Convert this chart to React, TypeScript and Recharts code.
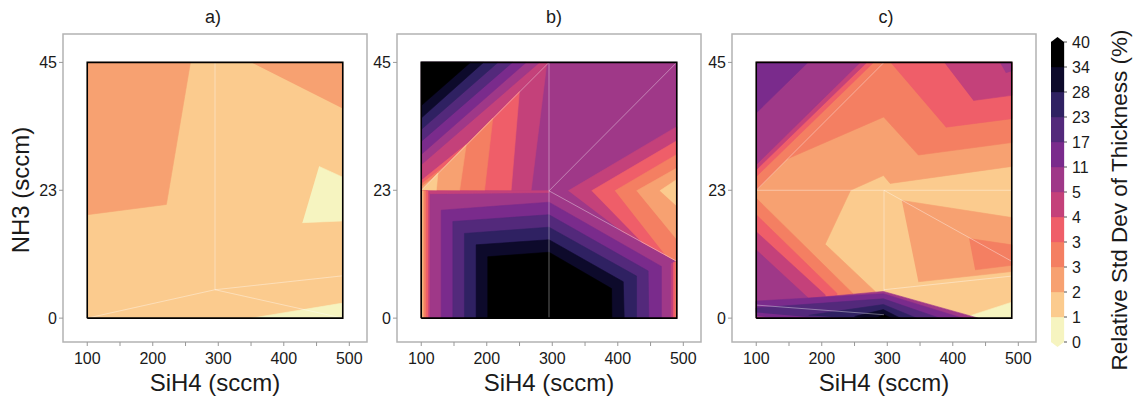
import React from "react"
import {
  ScatterChart,
  Scatter,
  XAxis,
  YAxis,
  ReferenceArea,
  BarChart,
  Bar,
} from "recharts"

type Pair = [number, number]
type Poly = { band: number; pts: Pair[] }

// contour band colours, lowest band first
const BAND_COLORS = [
  "#f6f4c0",
  "#fbcb8e",
  "#f7a171",
  "#f47f62",
  "#ef5e69",
  "#c4417a",
  "#9f3888",
  "#7a2b8c",
  "#53297b",
  "#2f2162",
  "#0d0a2b",
  "#000000",
]
const LEVEL_LABELS = ["0", "1", "2", "3", "3", "4", "5", "11", "17", "23", "28", "34", "40"]

const X_TICKS = [100, 150, 200, 250, 300, 350, 400, 450, 500]
const Y_TICKS = [0, 22.5, 45]
const X_DOMAIN: [number, number] = [63, 527]
const Y_DOMAIN: [number, number] = [-4.2, 50]
const BOX: Pair[] = [[100, 0], [100, 45], [490, 45], [490, 0]]

// a) regions (drawn over band 1)
const aPolys: Poly[] = [
  { band: 2, pts: [[100, 45], [257.5, 45], [220.8, 20.0], [100, 18.2]] },
  { band: 2, pts: [[350.5, 45], [490, 45], [490, 36.9]] },
  { band: 0, pts: [[453.8, 26.7], [490, 24.8], [490, 17.1], [428.4, 16.8]] },
  { band: 0, pts: [[350.5, 0], [490, 2.65], [490, 0]] },
]
const aSeams: Pair[][] = [
  [[295, 45], [295, 5]],
  [[100, 0], [295, 5]],
  [[295, 5], [490, 7.45]],
  [[295, 5], [490, 0]],
]

// b) regions (drawn over band 6)
const bPolys: Poly[] = [
  { band: 5, pts: [[100, 45], [295, 45], [100, 22.5]] },
  { band: 4, pts: [[100, 22.5], [100, 24.2], [175, 31.15]] },
  { band: 3, pts: [[100, 22.5], [100, 23.6], [140, 27.1]] },
  { band: 2, pts: [[100, 22.5], [100, 23.1], [118, 24.6]] },
  { band: 6, pts: [[100, 45], [280.4, 45], [100, 27.0]] },
  { band: 7, pts: [[100, 45], [260, 45], [100, 28.8]] },
  { band: 8, pts: [[100, 45], [239, 45], [100, 31.1]] },
  { band: 9, pts: [[100, 45], [217, 45], [100, 33.2]] },
  { band: 10, pts: [[100, 45], [195, 45], [100, 35.2]] },
  { band: 11, pts: [[100, 45], [175, 45], [100, 37.4]] },
  { band: 5, pts: [[100, 22.5], [291.5, 44.7], [267.6, 22.4]] },
  { band: 4, pts: [[100, 22.5], [249.8, 39.9], [237.1, 22.4]] },
  { band: 3, pts: [[100, 22.5], [209.2, 35.2], [196.5, 22.4]] },
  { band: 2, pts: [[100, 22.5], [168.6, 30.5], [158.4, 22.4]] },
  { band: 1, pts: [[100, 22.5], [125.4, 25.5], [122.9, 22.4]] },
  { band: 5, pts: [[100, 0], [100, 22.4], [295, 22.4], [295, 22.1], [112.7, 21.9], [112.7, 0]] },
  { band: 4, pts: [[100, 0], [100, 22.4], [110.2, 22.4], [110.2, 0]] },
  { band: 3, pts: [[100, 0], [100, 22.4], [106.6, 22.4], [106.6, 0]] },
  { band: 2, pts: [[100, 0], [100, 22.4], [103.6, 22.4], [103.6, 0]] },
  { band: 1, pts: [[100, 0], [100, 22.4], [101.5, 22.4], [101.5, 0]] },
  { band: 7, pts: [[130.5, 0], [130.5, 19.0], [295, 20.4], [466.6, 9.1], [466.6, 0]] },
  { band: 8, pts: [[148.3, 0], [148.3, 17.0], [295, 18.2], [446.3, 8.3], [447.3, 0]] },
  { band: 9, pts: [[166, 0], [166, 14.9], [295, 16.0], [428.6, 7.4], [428.6, 0]] },
  { band: 10, pts: [[183.8, 0], [183.8, 12.9], [295, 13.8], [408.3, 6.4], [409.8, 0]] },
  { band: 11, pts: [[201.6, 0], [201.6, 10.8], [295, 11.6], [390.5, 5.2], [391, 0]] },
  { band: 5, pts: [[481.5, 0], [481.5, 9.6], [490, 10], [490, 0]] },
  { band: 4, pts: [[485, 0], [485, 9.8], [490, 10], [490, 0]] },
  { band: 3, pts: [[488, 0], [488, 9.9], [490, 10], [490, 0]] },
  { band: 5, pts: [[324.4, 22.4], [490, 33.7], [490, 10], [405.7, 15.3]] },
  { band: 4, pts: [[360, 22.4], [490, 31.2], [490, 10], [436.2, 13.4]] },
  { band: 3, pts: [[395.6, 22.4], [490, 28.8], [490, 10], [471.7, 11.2]] },
  { band: 2, pts: [[428.6, 22.4], [490, 26.4], [490, 13.8]] },
  { band: 1, pts: [[464.1, 22.4], [490, 24.4], [490, 19.7]] },
]
const bSeams: Pair[][] = [
  [[100, 22.5], [295, 45]],
  [[295, 45], [295, 0]],
  [[295, 22.4], [490, 45]],
  [[295, 22.4], [490, 10]],
]

// c) regions (drawn over band 1)
const cPolys: Poly[] = [
  { band: 2, pts: [[100, 45], [490, 45], [490, 26.7], [304.4, 23.7], [294.2, 25.1], [244, 22.5], [205.2, 13.0], [281.5, 4.7], [281.5, 0], [100, 0]] },
  { band: 3, pts: [[100, 45], [490, 45], [490, 30.9], [347.5, 28.7], [294.5, 35.4], [147, 28.0], [100, 22.5]] },
  { band: 3, pts: [[100, 21.1], [247, 4.4], [250, 0], [100, 0]] },
  { band: 4, pts: [[100, 18.2], [222.9, 4.4], [225, 0], [100, 0]] },
  { band: 5, pts: [[100, 15.2], [205.2, 4.1], [207, 0], [100, 0]] },
  { band: 4, pts: [[305, 45], [490, 45], [490, 35.1], [389.5, 33.6]] },
  { band: 5, pts: [[387, 45], [490, 45], [490, 39.2], [431.4, 38.3]] },
  { band: 6, pts: [[472, 45], [490, 45], [490, 43.5], [481, 43.2]] },
  { band: 4, pts: [[100, 45], [279, 45], [100, 24.9]] },
  { band: 5, pts: [[100, 45], [268.8, 45], [100, 26.1]] },
  { band: 6, pts: [[100, 45], [258.6, 45], [100, 27.0]] },
  { band: 7, pts: [[100, 45], [178.8, 45], [100, 36.1]] },
  { band: 2, pts: [[322.2, 20.7], [490, 17.7], [490, 8.2], [347.5, 6.4]] },
  { band: 3, pts: [[425, 14.0], [490, 12.9], [490, 9.3], [434, 8.5]] },
  { band: 0, pts: [[415, 0], [490, 2.8], [490, 0]] },
  { band: 6, pts: [[100, 0], [100, 12.0], [179.8, 3.5], [294, 4.7], [439, 0]] },
  { band: 7, pts: [[100, 0.4], [100, 3.0], [294, 4.3], [415, 0], [130, 0]] },
  { band: 8, pts: [[100, 1.0], [100, 1.8], [294, 3.4], [380, 0], [200, 0]] },
  { band: 9, pts: [[180, 0.5], [294, 2.4], [345, 0], [240, 0]] },
  { band: 10, pts: [[250, 0.3], [294, 1.5], [320, 0], [270, 0]] },
  { band: 11, pts: [[283, 0], [295, 0.6], [306, 0]] },
]
const cSeams: Pair[][] = [
  [[100, 22.5], [490, 22.5]],
  [[295, 22.5], [295, 4.8]],
  [[100, 22.5], [295, 45]],
  [[295, 22.5], [490, 10]],
  [[100, 2.3], [295, 0.6]],
  [[295, 5], [490, 7.4]],
]

const FONT = "'Liberation Sans', Arial, sans-serif"

const NoDot = () => <g />

const toXY = (pts: Pair[]) => pts.map(([x, y]) => ({ x, y }))

function Panel({ left, base, polys, seams }: { left: number; base: number; polys: Poly[]; seams: Pair[][] }) {
  const all: Poly[] = [{ band: base, pts: BOX }, ...polys]
  return (
    <div style={{ position: "absolute", left, top: 0 }}>
      <ScatterChart width={369} height={401} margin={{ top: 34, right: 2, bottom: 29, left: 0 }}>
        <XAxis
          type="number"
          dataKey="x"
          domain={X_DOMAIN}
          ticks={X_TICKS}
          interval={0}
          height={30}
          axisLine={false}
          tickSize={4}
          tickMargin={7}
          tickLine={{ stroke: "#999" }}
          tick={{ fontSize: 16, fill: "#1a1a1a", fontFamily: FONT }}
          tickFormatter={(v: number) => (v % 100 === 0 ? String(v) : "")}
        />
        <YAxis
          type="number"
          dataKey="y"
          domain={Y_DOMAIN}
          ticks={Y_TICKS}
          interval={0}
          width={63}
          axisLine={false}
          tickSize={4}
          tickMargin={2}
          tickLine={{ stroke: "#999" }}
          tick={{ fontSize: 16, fill: "#1a1a1a", fontFamily: FONT }}
          tickFormatter={(v: number) => String(Math.round(v))}
        />
        <ReferenceArea x1={X_DOMAIN[0]} x2={X_DOMAIN[1]} y1={Y_DOMAIN[0]} y2={Y_DOMAIN[1]} fill="none" stroke="#b3b3b3" strokeWidth={1.5} />
        {all.map((p, i) => (
          <Scatter
            key={i}
            data={toXY(p.pts)}
            line={{ fill: BAND_COLORS[p.band], stroke: BAND_COLORS[p.band], strokeWidth: 0.6 }}
            shape={NoDot}
            legendType="none"
            isAnimationActive={false}
          />
        ))}
        {seams.map((s, i) => (
          <Scatter
            key={"s" + i}
            data={toXY(s)}
            line={{ fill: "none", stroke: "#ffffff", strokeOpacity: 0.55, strokeWidth: 0.7 }}
            shape={NoDot}
            legendType="none"
            isAnimationActive={false}
          />
        ))}
        <Scatter
          data={toXY([...BOX, BOX[0]])}
          line={{ fill: "none", stroke: "#000", strokeWidth: 1.6 }}
          shape={NoDot}
          legendType="none"
          isAnimationActive={false}
        />
      </ScatterChart>
    </div>
  )
}

const cbRow = [Object.fromEntries([["name", "cb"], ...BAND_COLORS.map((_, i) => [`b${i}`, 1])])]

function CbShape(props: any) {
  const { x, y, width, height, fill, dataKey } = props
  const top = dataKey === `b${BAND_COLORS.length - 1}`
  const bottom = dataKey === "b0"
  return (
    <g>
      <rect x={x} y={y} width={width} height={height} fill={fill} stroke={fill} strokeWidth={0.3} />
      {top && <path d={`M${x},${y} L${x + width / 2},${y - 5} L${x + width},${y} Z`} fill={fill} />}
      {bottom && <path d={`M${x},${y + height} L${x + width / 2},${y + height + 5} L${x + width},${y + height} Z`} fill={fill} />}
    </g>
  )
}

function ColorBar() {
  return (
    <div style={{ position: "absolute", left: 1051, top: 0 }}>
      <BarChart width={55} height={401} data={cbRow} margin={{ top: 42, right: 0, bottom: 59, left: 0 }} barCategoryGap={0}>
        <XAxis dataKey="name" hide />
        <YAxis
          orientation="right"
          type="number"
          domain={[0, 12]}
          ticks={LEVEL_LABELS.map((_, i) => i)}
          interval={0}
          width={42}
          axisLine={false}
          tickSize={3}
          tickMargin={5}
          tickLine={{ stroke: "#555" }}
          tick={{ fontSize: 16, fill: "#1a1a1a", fontFamily: FONT }}
          tickFormatter={(v: number) => LEVEL_LABELS[v]}
        />
        {BAND_COLORS.map((c, i) => (
          <Bar key={i} dataKey={`b${i}`} stackId="cb" fill={c} shape={CbShape} isAnimationActive={false} />
        ))}
      </BarChart>
    </div>
  )
}

export default function App() {
  return (
    <div style={{ position: "absolute", left: 0, top: 0, width: 1137, height: 401, background: "#fff", fontFamily: FONT }}>
      <Panel left={0} base={1} polys={aPolys} seams={aSeams} />
      <Panel left={334} base={6} polys={bPolys} seams={bSeams} />
      <Panel left={669} base={1} polys={cPolys} seams={cSeams} />
      <ColorBar />
      <svg width={1137} height={401} style={{ position: "absolute", left: 0, top: 0, pointerEvents: "none" }}>
        <g fontFamily={FONT} fill="#1a1a1a">
          <text x={213} y={23} fontSize={18} textAnchor="middle">a)</text>
          <text x={554} y={23} fontSize={18} textAnchor="middle">b)</text>
          <text x={886} y={23} fontSize={18} textAnchor="middle">c)</text>
          <text x={215} y={391} fontSize={24} textAnchor="middle">SiH4 (sccm)</text>
          <text x={549} y={391} fontSize={24} textAnchor="middle">SiH4 (sccm)</text>
          <text x={884} y={391} fontSize={24} textAnchor="middle">SiH4 (sccm)</text>
          <text x={28.5} y={190} fontSize={24} textAnchor="middle" transform="rotate(-90 28.5 190)">NH3 (sccm)</text>
          <text x={1127} y={200} fontSize={22.5} textAnchor="middle" transform="rotate(-90 1127 200)">Relative Std Dev of Thickness (%)</text>
        </g>
      </svg>
    </div>
  )
}
